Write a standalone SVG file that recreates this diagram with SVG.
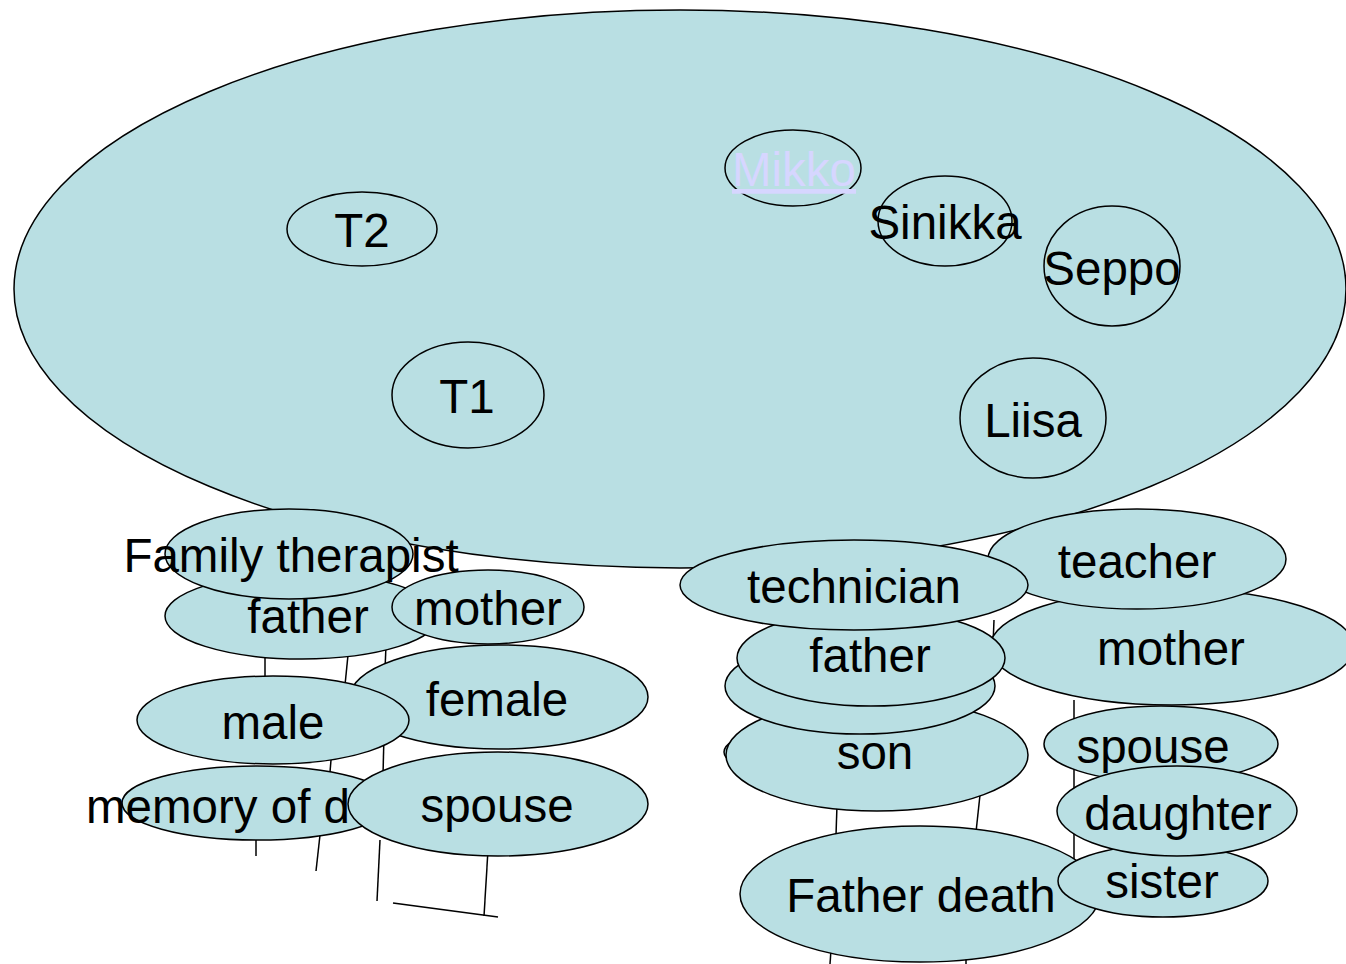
<svg xmlns="http://www.w3.org/2000/svg" width="1346" height="964" viewBox="0 0 1346 964">
<style>
.n{fill:#B9DFE3;stroke:#000;stroke-width:1.5}
.t{font-family:"Liberation Sans",Arial,sans-serif;font-size:47.5px;fill:#000;text-anchor:middle}
.c{stroke:#000;stroke-width:1.5;fill:none}
</style>
<rect width="1346" height="964" fill="#fff"/>
<g id="group"><ellipse class="n" cx="680" cy="289" rx="666" ry="279"/></g>
<g id="mikko"><ellipse class="n" cx="793" cy="168" rx="68" ry="38"/><text class="t" x="794" y="186" style="fill:#D6D6FF;text-decoration:underline">Mikko</text></g>
<g id="sinikka"><ellipse class="n" cx="945" cy="221" rx="67" ry="45"/><text class="t" x="945" y="239">Sinikka</text></g>
<g id="seppo"><ellipse class="n" cx="1112" cy="266" rx="68" ry="60"/><text class="t" x="1112" y="285">Seppo</text></g>
<g id="t2"><ellipse class="n" cx="362" cy="229" rx="75" ry="37"/><text class="t" x="362" y="247">T2</text></g>
<g id="t1"><ellipse class="n" cx="468" cy="395" rx="76" ry="53"/><text class="t" x="467" y="413">T1</text></g>
<g id="liisa"><ellipse class="n" cx="1033" cy="418" rx="73" ry="60"/><text class="t" x="1033" y="437">Liisa</text></g>
<g id="connectors">
<line class="c" x1="265" y1="655" x2="265" y2="680"/>
<line class="c" x1="348" y1="655" x2="345" y2="685"/>
<line class="c" x1="386" y1="645" x2="385" y2="670"/>
<line class="c" x1="331" y1="760" x2="330" y2="772"/>
<line class="c" x1="384" y1="735" x2="383" y2="775"/>
<line class="c" x1="256" y1="835" x2="256" y2="856"/>
<line class="c" x1="320" y1="835" x2="316" y2="871"/>
<line class="c" x1="380" y1="840" x2="377" y2="901"/>
<line class="c" x1="393" y1="903" x2="498" y2="917"/>
<line class="c" x1="488" y1="850" x2="484" y2="916"/>
<line class="c" x1="994" y1="620" x2="993" y2="645"/>
<line class="c" x1="1074" y1="700" x2="1074" y2="870"/>
<line class="c" x1="837" y1="805" x2="836" y2="835"/>
<line class="c" x1="980" y1="795" x2="976" y2="832"/>
<line class="c" x1="831" y1="950" x2="830" y2="964"/>
<line class="c" x1="966" y1="950" x2="966" y2="964"/>
</g>
<g id="father-l"><ellipse class="n" cx="302" cy="616" rx="137" ry="43"/><text class="t" x="308" y="633">father</text></g>
<g id="mother-l"><ellipse class="n" cx="488" cy="607" rx="96" ry="37"/><text class="t" x="488" y="625">mother</text></g>
<g id="family-therapist"><ellipse class="n" cx="289" cy="554" rx="124" ry="45"/><text class="t" x="291" y="572">Family therapist</text></g>
<g id="female"><ellipse class="n" cx="499" cy="697" rx="149" ry="52"/><text class="t" x="497" y="716">female</text></g>
<g id="male"><ellipse class="n" cx="273" cy="720" rx="136" ry="44"/><text class="t" x="273" y="739">male</text></g>
<g id="memory"><ellipse class="n" cx="257" cy="803" rx="135" ry="37"/><text class="t" x="86" y="823" style="text-anchor:start">memory of d</text></g>
<g id="spouse-l"><ellipse class="n" cx="498" cy="804" rx="150" ry="52"/><text class="t" x="497" y="822">spouse</text></g>
<g id="mother-r"><ellipse class="n" cx="1172" cy="647" rx="182" ry="58"/><text class="t" x="1171" y="665">mother</text></g>
<g id="teacher"><ellipse class="n" cx="1137" cy="559" rx="149" ry="50"/><text class="t" x="1137" y="578">teacher</text></g>
<g id="son"><ellipse class="n" cx="874" cy="752" rx="150" ry="32"/><ellipse class="n" cx="877" cy="755" rx="151" ry="56"/><text class="t" x="875" y="769">son</text></g>
<g id="blank"><ellipse class="n" cx="860" cy="686" rx="135" ry="48"/></g>
<g id="father-r"><ellipse class="n" cx="871" cy="658" rx="134" ry="48"/><text class="t" x="870" y="672">father</text></g>
<g id="technician"><ellipse class="n" cx="854" cy="585" rx="174" ry="45"/><text class="t" x="854" y="603">technician</text></g>
<g id="father-death"><ellipse class="n" cx="920" cy="894" rx="180" ry="68"/><text class="t" x="921" y="912">Father death</text></g>
<g id="sister"><ellipse class="n" cx="1163" cy="881" rx="105" ry="36"/><text class="t" x="1162" y="898">sister</text></g>
<g id="spouse-r"><ellipse class="n" cx="1161" cy="744" rx="117" ry="38"/><text class="t" x="1153" y="763">spouse</text></g>
<g id="daughter"><ellipse class="n" cx="1177" cy="811" rx="120" ry="45"/><text class="t" x="1178" y="830">daughter</text></g>
</svg>
